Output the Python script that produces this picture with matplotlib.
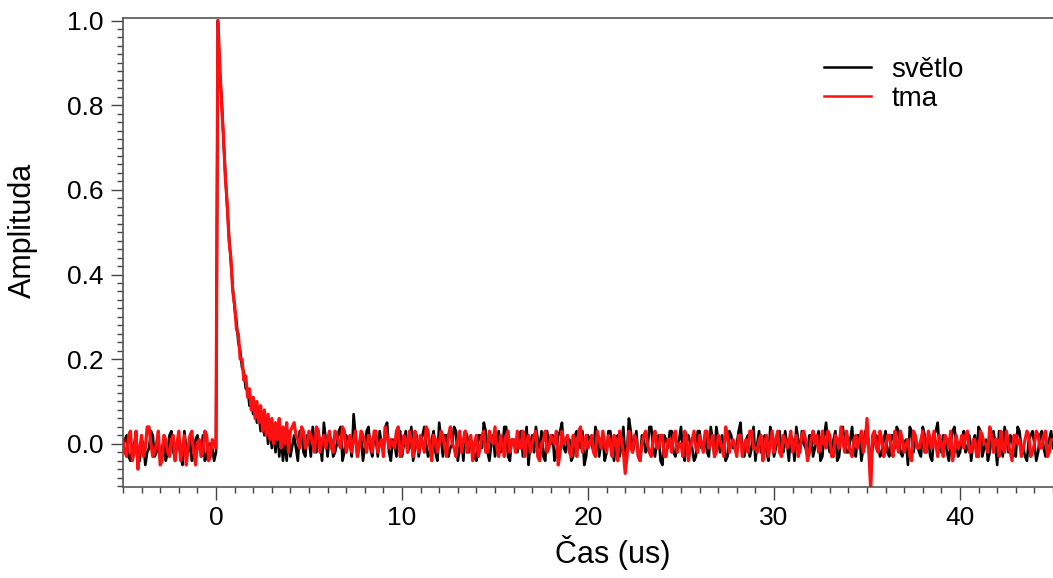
import numpy as np
import matplotlib
matplotlib.use("Agg")
import matplotlib.pyplot as plt
from matplotlib.ticker import MultipleLocator

plt.rcParams['font.family'] = ['Liberation Sans', 'DejaVu Sans']

# time grids (us): pulse-free start, fast decay, long tail,
# plus the in-between samples of the noisy parts
t_pre = np.round(np.arange(-5.0, 0.01, 0.2), 2)
t_pre_mid = np.round(np.arange(-4.9, -0.09, 0.2), 2)
t_peak = np.round(np.arange(0.1, 4.01, 0.1), 2)
t_tail = np.round(np.arange(4.2, 45.01, 0.2), 2)
t_tail_mid = np.round(np.arange(4.3, 44.91, 0.2), 2)

# amplitudes, in hundredths
light_pre = [-1, 2, -4, 0, -3, 1, -5, -1, 2, -2, -4, 1, -2, 3, -3, 0, -5, -1, 1, -3,
             2, -2, -4, 0, -1, -2]
light_pre_mid = [1, -3, -1, 2, -4, 0, -2, 3, -3, 1, -1, -4, 2, -2, 0, -3, 3, -2, -4, 1,
                 -1, 2, -3, 0, -4]
dark_pre = [1, -3, 3, -2, -6, 2, -1, 4, -3, 0, -5, 2, -2, 1, -4, 3, -1, -5, 2, -2,
            0, -3, 3, -4, 1, -1]
dark_pre_mid = [-2, 2, -4, 3, -1, -3, 4, 0, -2, 3, -4, 1, -3, 2, 0, -4, 2, -1, 3, -5,
                1, -2, 2, -3, 0]

light_peak = [100, 88, 82, 72, 64, 56, 49, 43, 37, 32,
              29, 24, 22, 18, 17, 13, 13, 9, 10, 7,
              9, 5, 7, 3, 6, 2, 5, 0, 4, -1,
              3, -2, 4, -3, 2, -4, 1, -4, 3, -3]
dark_peak = [100, 90, 80, 73, 63, 57, 48, 44, 36, 33,
             27, 26, 20, 20, 15, 16, 11, 13, 8, 11,
             6, 10, 5, 9, 3, 8, 2, 7, 1, 6,
             0, 5, 1, 6, -1, 4, 0, 5, -2, 3]

light_tail = [2, -4, 3, -3, 1, 4, -2, 0, 5, -3,
              1, -2, 3, -4, 2, 0, 7, -3, 2, -1,
              4, -3, 1, 3, -2, 5, -4, 0, 2, -3,
              3, -1, -4, 2, 0, 4, -3, 1, -2, 5,
              -3, 2, -1, 4, -4, 1, 3, -2, 0, -4,
              2, 5, -2, 0, -3, 3, -1, 4, -4, 1,
              -2, 3, 0, -5, 2, 4, -1, -3, 3, 0,
              -4, 2, 5, -2, 1, -3, 3, -1, -5, 2,
              0, 4, -3, 1, -2, 3, -4, 2, 0, -3,
              6, -2, 3, -4, 1, -1, 4, -3, 2, -5,
              1, 3, -2, 0, 4, -4, 2, -1, -3, 3,
              0, -2, 4, -3, 1, 2, -4, 3, -1, 0,
              5, -3, 2, -1, -4, 3, 0, -2, 4, -3,
              2, -1, 3, -4, 1, 4, -2, 0, -3, 2,
              -1, 3, -3, 5, -2, 1, -4, 2, 0, -2,
              4, -3, 2, -1, 3, -4, 1, 0, -2, 3,
              -3, 2, 4, -2, 0, -5, 3, 1, -2, 4,
              -1, -3, 2, 5, -2, 1, -4, 3, 0, -2,
              3, -1, -4, 2, 4, -3, 1, -2, 3, -5,
              0, 4, -2, 1, -3, 3, -1, -4, 2, 0,
              -2, 3, -3, 1, -1]
light_tail_mid = [-1, 3, -2, 2, -3, 0, 3, -4, 1, 2,
                  -3, 0, 4, -2, 1, -3, 2, 0, -4, 3,
                  -1, 2, -3, 0, 4, -2, 1, -3, 3, 0,
                  -2, 4, -1, -3, 2, 0, -2, 3, -4, 1,
                  2, -3, 0, 3, -1, -4, 2, 1, -3, 2,
                  -1, 3, -4, 2, 0, -2, 4, -3, 1, -1,
                  2, -3, 4, 0, -2, 1, 3, -4, 0, 2,
                  -2, 3, -1, 1, -4, 2, 0, 3, -3, 1,
                  -2, 2, 0, -4, 3, -1, 1, -3, 4, -2,
                  3, 0, -3, 2, -2, 4, -1, 0, -4, 2,
                  -1, 3, -3, 1, -2, 2, 0, -4, 3, -1,
                  2, -3, 1, 4, -2, 0, -3, 2, -1, 3,
                  -2, 1, -3, 4, 0, -2, 2, -4, 1, -1,
                  3, -2, 0, 2, -4, 1, 3, -1, 2, -3,
                  1, -4, 2, 0, -1, 3, -3, 4, -2, 1,
                  -2, 2, -4, 3, 0, -1, 2, -3, 1, -2,
                  2, -1, 3, -3, 1, 4, -2, 0, -3, 2,
                  1, -4, 3, -1, 2, -2, 0, 4, -3, 1,
                  -2, 2, 0, -3, 3, -1, -4, 2, 0, 3,
                  -3, 1, 2, -2, 4, -1, -3, 1, 3, -4,
                  2, -1, 0, 3]
dark_tail = [5, 1, 4, -1, 3, 0, 4, -2, 2, 1,
             -1, 3, 0, 4, -2, 2, 1, -3, 3, 0,
             2, -2, 3, 0, -3, 2, 1, -1, 4, -2,
             1, 3, -3, 0, 2, -2, 3, -4, 1, 0,
             2, -3, 4, -1, 1, -2, 3, 0, -4, 2,
             -1, 3, -2, 1, 4, -3, 0, 2, -2, 1,
             3, -1, -3, 2, 0, 3, -4, 1, -2, 2,
             0, -5, 3, 1, -2, 2, -3, 4, 0, -1,
             2, -3, 1, 3, -2, 0, 2, -4, 1, -7,
             3, -2, 1, -4, 2, 0, -3, 3, -1, 2,
             -3, 1, 2, -2, 0, 3, -4, 1, -1, 2,
             -2, 3, 0, -3, 2, -1, 4, -2, 1, -3,
             2, 0, -2, 3, -1, 1, -4, 2, 0, -2,
             3, -3, 1, 0, -2, 2, -1, 3, -4, 1,
             0, -2, 3, -1, 2, -3, 1, 4, -2, 0,
             -3, 2, 1, -2, 6, -11, 3, -2, 1, -1,
             2, -3, 0, 3, -2, 1, -4, 2, -1, 3,
             -2, 1, 3, -3, 0, 2, -1, -4, 2, 0,
             -1, 3, -2, 1, -3, 2, 0, 4, -2, 1,
             3, -2, 0, -4, 2, 1, -1, 3, -3, 0,
             2, -1, 3, -2, 1]
dark_tail_mid = [2, -1, 3, 0, 2, -2, 3, 1, -1, 3,
                 -2, 2, -1, 3, 0, -2, 3, -1, 2, -2,
                 1, 3, -2, 1, 4, -1, 0, 3, -3, 2,
                 -2, 1, 3, -2, 0, 4, -1, 2, -2, 3,
                 -1, 2, 0, -3, 3, 1, -2, 2, 0, -3,
                 2, -2, 3, 0, -1, 2, -3, 3, 1, -2,
                 -1, 3, 1, -2, 2, -3, 0, 3, -1, 1,
                 3, -2, 0, 2, -3, 1, 3, -2, 2, 0,
                 -2, 3, -1, 0, 2, -3, 1, 3, -2, -3,
                 -1, 2, -3, 0, 3, -2, 1, -1, 2, -3,
                 1, -2, 3, 0, -3, 2, -1, 3, -2, 0,
                 3, -1, 2, -2, 1, -3, 2, 0, -1, 2,
                 -3, 1, 3, -1, -2, 2, 0, -3, 3, 1,
                 -2, 2, -1, 3, 0, -3, 2, 1, -2, 3,
                 2, -1, 0, 3, -3, 2, -1, 1, 3, -2,
                 1, -1, 3, 0, -2, 2, -1, 3, -3, 2,
                 -1, 3, -2, 1, 0, -3, 3, -1, 1, -2,
                 3, -1, 0, 2, -3, 1, 3, -2, -1, 2,
                 2, -2, 1, -3, 3, 0, -2, 2, 1, -3,
                 -1, 3, -2, 2, 0, -3, 1, 2, -2, 3,
                 -1, 2, -3, 1]

time = np.concatenate([t_pre, t_pre_mid, t_peak, t_tail, t_tail_mid])
order = np.argsort(time, kind='stable')
time = time[order]
light = np.array(light_pre + light_pre_mid + light_peak + light_tail + light_tail_mid)[order] / 100.0
dark = np.array(dark_pre + dark_pre_mid + dark_peak + dark_tail + dark_tail_mid)[order] / 100.0

fig = plt.figure(figsize=(10.53, 5.78), dpi=100)
ax = fig.add_axes([123 / 1053, 1 - 487 / 578, 1 - 123 / 1053, (487 - 18) / 578])

ax.plot(time, light, color='black', lw=1.9, label='světlo')
ax.plot(time, dark, color='#ff1010', lw=2.3, label='tma')

ax.set_xlim(-5, 45)
ax.set_ylim(-0.102, 1.006)
ax.xaxis.set_major_locator(MultipleLocator(10))
ax.xaxis.set_minor_locator(MultipleLocator(1))
ax.yaxis.set_major_locator(MultipleLocator(0.2))
ax.yaxis.set_minor_locator(MultipleLocator(0.02))
ax.tick_params(which='major', length=9, width=1, color='#444444', labelsize=19, pad=5)
ax.tick_params(which='minor', length=4, width=1, color='#444444')

ax.spines['right'].set_visible(False)
for s in ['left', 'bottom', 'top']:
    ax.spines[s].set_color('#555555')
    ax.spines[s].set_linewidth(1.2)

ax.set_xlabel('Čas (us)', fontsize=22)
ax.set_ylabel('Amplituda', fontsize=22)
ax.xaxis.set_label_coords(0.527, -0.103)
ax.yaxis.set_label_coords(-0.092, 0.548)

leg = ax.legend(loc='upper left', bbox_to_anchor=(0.727, 0.97), frameon=False, fontsize=20,
                handlelength=1.7, handletextpad=0.72, labelspacing=0.1)
for line in leg.get_lines():
    line.set_linewidth(1.8)

fig.savefig('out.png', dpi=100)
